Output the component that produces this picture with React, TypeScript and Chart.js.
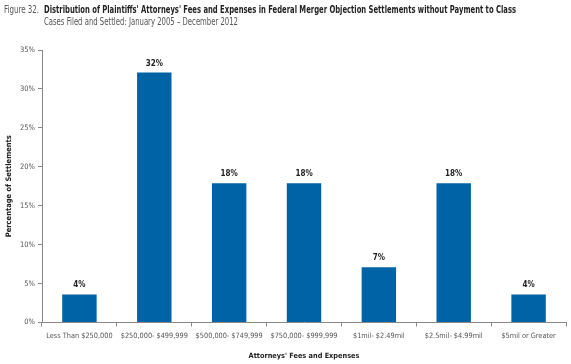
import React, { useEffect, useRef } from "react";
import { Chart, registerables } from "chart.js";
Chart.register(...registerables);

const categories = [
  "Less Than $250,000",
  "$250,000- $499,999",
  "$500,000- $749,999",
  "$750,000- $999,999",
  "$1mil- $2.49mil",
  "$2.5mil- $4.99mil",
  "$5mil or Greater",
];
const values = [3.6, 32.1, 17.9, 17.9, 7.1, 17.9, 3.6];
const valueLabels = ["4%", "32%", "18%", "18%", "7%", "18%", "4%"];
const yTicks = [0, 5, 10, 15, 20, 25, 30, 35];

const FONT = "'Liberation Sans Narrow', 'DejaVu Sans Condensed', 'Liberation Sans', sans-serif";

function fitText(ctx: any, text: string, x: number, y: number, width: number) {
  const w = ctx.measureText(text).width;
  ctx.save();
  ctx.translate(x, y);
  ctx.scale(width / w, 1);
  ctx.fillText(text, 0, 0);
  ctx.restore();
}

const titlePlugin = {
  id: "titlePlugin",
  afterDraw(chart: any) {
    const ctx = chart.ctx;
    ctx.save();
    ctx.textBaseline = "alphabetic";
    ctx.textAlign = "left";
    ctx.fillStyle = "#555";
    ctx.font = `10px ${FONT}`;
    fitText(ctx, "Figure 32.", 4, 13, 35);
    ctx.fillStyle = "#222";
    ctx.font = `bold 10px ${FONT}`;
    fitText(
      ctx,
      "Distribution of Plaintiffs' Attorneys' Fees and Expenses in Federal Merger Objection Settlements without Payment to Class",
      44,
      13,
      472
    );
    ctx.fillStyle = "#555";
    ctx.font = `10px ${FONT}`;
    fitText(ctx, "Cases Filed and Settled: January 2005 \u2013 December 2012", 44, 25, 194);
    ctx.restore();
  },
};

const valueLabelPlugin = {
  id: "valueLabelPlugin",
  afterDatasetsDraw(chart: any) {
    const ctx = chart.ctx;
    const meta = chart.getDatasetMeta(0);
    ctx.save();
    ctx.fillStyle = "#222";
    ctx.font = `bold 8px ${FONT}`;
    ctx.textAlign = "center";
    ctx.textBaseline = "alphabetic";
    meta.data.forEach((bar: any, i: number) => {
      ctx.fillText(valueLabels[i], bar.x, bar.y - 7);
    });
    ctx.restore();
  },
};

export default function App() {
  const ref = useRef<HTMLCanvasElement>(null);
  useEffect(() => {
    document.body.style.margin = "0";
    const chart = new Chart(ref.current!, {
      type: "bar",
      data: {
        labels: categories,
        datasets: [
          {
            data: values,
            backgroundColor: "#0063a6",
            categoryPercentage: 1,
            barPercentage: 0.46,
          },
        ],
      },
      options: {
        animation: false,
        responsive: false,
        maintainAspectRatio: false,
        layout: { padding: { left: 5, right: 5, top: 50, bottom: 4 } },
        plugins: {
          legend: { display: false },
          tooltip: { enabled: false },
          title: { display: false },
        },
        scales: {
          x: {
            grid: {
              offset: true,
              drawOnChartArea: false,
              drawTicks: true,
              tickLength: 4,
              color: "#888",
            },
            border: { color: "#888" },
            ticks: {
              color: "#555",
              font: { family: FONT, size: 7.3 },
              maxRotation: 0,
              autoSkip: false,
              padding: 5,
            },
            title: {
              display: true,
              text: "Attorneys' Fees and Expenses",
              color: "#222",
              font: { family: FONT, size: 7.3, weight: "bold" },
              padding: { top: 6, bottom: 0 },
            },
          },
          y: {
            min: 0,
            max: 35,
            afterBuildTicks(scale: any) {
              scale.ticks = yTicks.map((v) => ({ value: v }));
            },
            afterFit(scale: any) {
              scale.width = 37;
            },
            grid: {
              drawOnChartArea: false,
              drawTicks: true,
              tickLength: 4,
              color: "#888",
            },
            border: { color: "#888" },
            ticks: {
              color: "#555",
              font: { family: FONT, size: 7.5 },
              padding: 3,
              callback: (v: any) => `${v}%`,
            },
            title: {
              display: true,
              text: "Percentage of Settlements",
              color: "#222",
              font: { family: FONT, size: 7.5, weight: "bold" },
              padding: { top: 0, bottom: 2 },
            },
          },
        },
      },
      plugins: [titlePlugin, valueLabelPlugin],
    });
    return () => chart.destroy();
  }, []);
  return (
    <div style={{ position: "absolute", left: 0, top: 0, width: 571, height: 364, background: "#fff" }}>
      <canvas ref={ref} width={571} height={364} style={{ width: 571, height: 364 }} />
    </div>
  );
}
